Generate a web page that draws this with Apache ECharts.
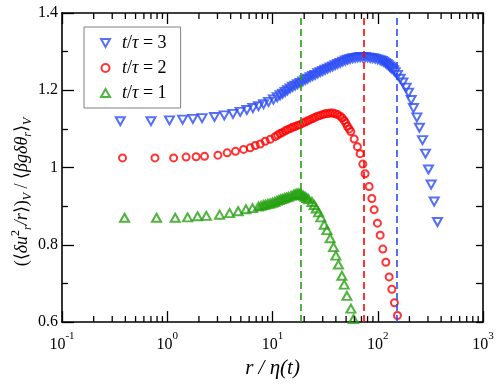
<!DOCTYPE html>
<html>
<head>
<meta charset="utf-8">
<script src="https://cdn.jsdelivr.net/npm/echarts@6/dist/echarts.min.js"></script>
<style>html,body{margin:0;padding:0;background:#fff}#c{width:498px;height:384px}</style>
</head>
<body>
<div id="c"></div>
<script>
// ---- data ----
const rGreen = [0.393,0.791,1.19,1.56,1.94,2.35,3.14,3.91,4.72,5.59,6.46,7.36,7.8,8.22,8.6,9.04,9.5,10.0,10.5,11.0,11.5,12.0,12.5,13.0,13.6,14.2,15.0,15.8,16.4,17.1,17.8,18.4,19.0,19.7,20.5,21.2,22.0,23.7,24.9,26.0,27.4,28.8,31.0,32.9,35.3,38.0,40.0,42.3,45.6,48.0,50.9,55.6,58.8];
const vGreen = [0.870,0.870,0.870,0.871,0.874,0.875,0.878,0.882,0.887,0.892,0.895,0.899,0.901,0.903,0.904,0.906,0.907,0.909,0.911,0.914,0.916,0.918,0.919,0.921,0.923,0.924,0.927,0.929,0.931,0.933,0.933,0.932,0.929,0.927,0.924,0.921,0.918,0.911,0.903,0.894,0.884,0.871,0.852,0.838,0.817,0.794,0.772,0.749,0.720,0.697,0.668,0.635,0.608];

const rRed = [0.376,0.764,1.15,1.51,1.88,2.26,3.03,3.71,4.45,5.31,6.14,6.85,7.64,8.53,9.51,10.6,11.2,11.8,12.5,13.2,13.9,14.7,15.5,16.4,17.3,18.3,19.4,20.5,21.6,22.8,24.1,25.4,26.9,28.4,30.0,31.6,33.4,35.3,37.3,39.4,41.6,44.0,46.0,48.0,49.7,51.5,53.5,55.5,59.7,64.1,68.0,72.1,75.8,82.8,87.9,92.4,99.3,105.4,111.8,119.4,128.3,136.1,144.1,153.8];
const vRed = [1.025,1.025,1.025,1.027,1.028,1.029,1.032,1.038,1.042,1.047,1.051,1.057,1.061,1.068,1.073,1.080,1.084,1.088,1.091,1.095,1.098,1.101,1.104,1.106,1.109,1.111,1.115,1.118,1.121,1.124,1.127,1.130,1.133,1.135,1.137,1.139,1.140,1.141,1.141,1.139,1.137,1.133,1.128,1.122,1.115,1.107,1.100,1.093,1.074,1.054,1.036,1.009,0.984,0.951,0.920,0.891,0.856,0.825,0.789,0.755,0.717,0.685,0.650,0.617];

const rBlue = [0.358,0.700,1.05,1.40,1.75,2.14,2.81,3.48,4.21,4.93,5.71,6.51,7.36,8.22,9.17,10.2,11.1,11.8,12.5,13.2,13.9,14.7,15.5,16.4,17.3,18.3,19.4,20.5,21.6,22.8,24.1,25.4,26.9,28.4,30.0,31.6,33.4,35.3,37.3,39.4,41.6,44.0,46.5,49.2,51.9,54.7,57.8,61.0,64.4,68.0,71.8,75.9,80.2,84.7,89.5,94.5,99.8,105.4,109.5,113.8,118.0,122.0,125.5,129.1,132.5,136.1,141.5,146.3,153.8,163.3,173.1,186.1,195.9,207.7,218.3,235.2,249.0,266.0,284.0,303.4,321.5,343.6,369.3];
const vBlue = [1.120,1.120,1.122,1.124,1.126,1.128,1.131,1.135,1.139,1.144,1.149,1.154,1.159,1.164,1.170,1.176,1.182,1.187,1.191,1.196,1.200,1.205,1.209,1.212,1.216,1.219,1.223,1.227,1.230,1.234,1.237,1.240,1.244,1.247,1.250,1.253,1.256,1.259,1.262,1.265,1.268,1.271,1.274,1.277,1.279,1.281,1.283,1.284,1.285,1.286,1.286,1.286,1.285,1.284,1.283,1.282,1.280,1.278,1.276,1.274,1.271,1.268,1.265,1.262,1.259,1.256,1.252,1.247,1.240,1.230,1.220,1.207,1.194,1.175,1.154,1.130,1.103,1.071,1.036,0.995,0.956,0.912,0.859];

const seriesNames = ['t/τ = 3', 't/τ = 2', 't/τ = 1'];
const dashX = { blue: 150, red: 73, green: 18.6 };
const xMinorTicks = [0.2,0.3,0.4,0.5,0.6,0.7,0.8,0.9,2,3,4,5,6,7,8,9,20,30,40,50,60,70,80,90,200,300,400,500,600,700,800,900];

// ---- styling ----
const BLUE = '#2a4cf4', RED = '#ff0000', GREEN = '#26a010';
const SERIF = 'Liberation Serif';
const HOLLOW = 'rgba(255,255,255,0)';

function zip(a, b) { return a.map((v, i) => [v, b[i]]); }
function dashLine(x, c) {
  return { silent: true, symbol: ['none', 'none'], label: { show: false },
    lineStyle: { color: c, type: [7, 4], width: 1.6 }, emphasis: { disabled: true },
    data: [{ xAxis: x }] };
}

const chart = echarts.init(document.getElementById('c'), null, { renderer: 'canvas' });
const axisLineStyle = { color: '#000', width: 1.6 };
const tickLine = { color: '#000', width: 1.3 };

const option = {
  animation: false,
  backgroundColor: '#fff',
  grid: { left: 62, right: 15, top: 13, bottom: 55, containLabel: false },
  legend: {
    data: [
      { name: seriesNames[0], icon: 'path://M0,0 L10,0 L5,9 Z' },
      { name: seriesNames[1] },
      { name: seriesNames[2] }
    ],
    orient: 'vertical',
    left: 84, top: 27,
    padding: [7, 14, 6, 16],
    itemGap: 7,
    itemWidth: 9, itemHeight: 8,
    borderColor: '#808080', borderWidth: 1, backgroundColor: '#fff',
    selectedMode: false,
    formatter: n => '{i|t}{r|/}{i|τ}{r| = ' + n.slice(-1) + '}',
    textStyle: {
      fontFamily: SERIF, fontSize: 18, color: '#000', lineHeight: 18, padding: [0, 0, 0, 7],
      rich: {
        i: { fontFamily: SERIF, fontStyle: 'italic', fontSize: 18, color: '#000' },
        r: { fontFamily: SERIF, fontSize: 18, color: '#000' }
      }
    }
  },
  graphic: [{
    type: 'text', x: 22, y: 192, rotation: Math.PI / 2, silent: true,
    style: {
      text: '{n|(⟨}{it|δu}{sup|2}{sub|r}{it|/r}{n|⟩)}{sub|V}{n| / ⟨}{it|βgδθ}{sub|r}{n|⟩}{sub|V}',
      align: 'center', verticalAlign: 'middle',
      fontFamily: SERIF, fontSize: 18, fill: '#000',
      rich: {
        n: { fontFamily: SERIF, fontSize: 18, fill: '#000', lineHeight: 24 },
        it: { fontFamily: SERIF, fontStyle: 'italic', fontSize: 18, fill: '#000', lineHeight: 24 },
        sub: { fontFamily: SERIF, fontStyle: 'italic', fontSize: 12, fill: '#000', verticalAlign: 'bottom', lineHeight: 14 },
        sup: { fontFamily: SERIF, fontSize: 12, fill: '#000', verticalAlign: 'top', lineHeight: 14 }
      }
    }
  }],
  xAxis: [{
    type: 'log', logBase: 10, min: 0.1, max: 1000,
    name: 'r / η(t)', nameLocation: 'middle', nameGap: 31,
    nameTextStyle: { fontFamily: SERIF, fontStyle: 'italic', fontSize: 21, color: '#000' },
    axisLine: { lineStyle: axisLineStyle },
    axisTick: { inside: true, length: 11, lineStyle: tickLine },
    splitLine: { show: false },
    axisLabel: {
      margin: 9,
      formatter: v => '{b|10}{s|' + Math.round(Math.log10(v)) + '}',
      rich: {
        b: { fontFamily: SERIF, fontSize: 16, color: '#000', padding: [6, 0, 0, 0] },
        s: { fontFamily: SERIF, fontSize: 11, color: '#000', verticalAlign: 'top', padding: [0, 0, 8, 0] }
      }
    }
  }, {
    type: 'log', logBase: 10, min: 0.1, max: 1000, position: 'top',
    axisLine: { lineStyle: axisLineStyle },
    axisTick: { inside: true, length: 11, lineStyle: tickLine },
    axisLabel: { show: false }, splitLine: { show: false }
  }],
  yAxis: [{
    type: 'value', min: 0.6, max: 1.4, interval: 0.2,
    axisLine: { lineStyle: axisLineStyle },
    axisTick: { inside: true, length: 12, lineStyle: tickLine },
    minorTick: { show: true, splitNumber: 2, length: 6, lineStyle: tickLine },
    splitLine: { show: false },
    axisLabel: { fontFamily: SERIF, fontSize: 16, color: '#000', margin: 4 }
  }, {
    type: 'value', min: 0.6, max: 1.4, interval: 0.1, position: 'right',
    axisLine: { show: true, lineStyle: axisLineStyle },
    axisTick: { inside: true, length: 7, lineStyle: tickLine },
    minorTick: { show: false },
    axisLabel: { show: false }, splitLine: { show: false }
  }],
  series: [
    {
      name: seriesNames[0], type: 'scatter', data: zip(rBlue, vBlue),
      symbol: 'triangle', symbolRotate: 180, symbolSize: [9, 8],
      itemStyle: { color: HOLLOW, borderColor: BLUE, borderWidth: 2 },
      emphasis: { disabled: true }, markLine: dashLine(dashX.blue, BLUE), z: 3
    },
    {
      name: seriesNames[1], type: 'scatter', data: zip(rRed, vRed),
      symbol: 'circle', symbolSize: 7,
      itemStyle: { color: HOLLOW, borderColor: RED, borderWidth: 2 },
      emphasis: { disabled: true }, markLine: dashLine(dashX.red, RED), z: 3
    },
    {
      name: seriesNames[2], type: 'scatter', data: zip(rGreen, vGreen),
      symbol: 'triangle', symbolSize: [9, 8],
      itemStyle: { color: HOLLOW, borderColor: GREEN, borderWidth: 2 },
      emphasis: { disabled: true }, markLine: dashLine(dashX.green, GREEN), z: 3
    },
    {
      name: 'minorTicks', type: 'custom', silent: true, clip: false, z: 5,
      data: xMinorTicks.map(v => [v, 1]),
      encode: { x: 0, y: 1 },
      renderItem: function (params, api) {
        const p = api.coord([api.value(0), 1]);
        const cs = params.coordSys;
        const bot = cs.y + cs.height, top = cs.y;
        const st = { stroke: '#000', lineWidth: 1.3 };
        return { type: 'group', children: [
          { type: 'line', shape: { x1: p[0], y1: bot, x2: p[0], y2: bot - 6 }, style: st },
          { type: 'line', shape: { x1: p[0], y1: top, x2: p[0], y2: top + 6 }, style: st }
        ] };
      }
    }
  ]
};
chart.setOption(option);
</script>
</body>
</html>
